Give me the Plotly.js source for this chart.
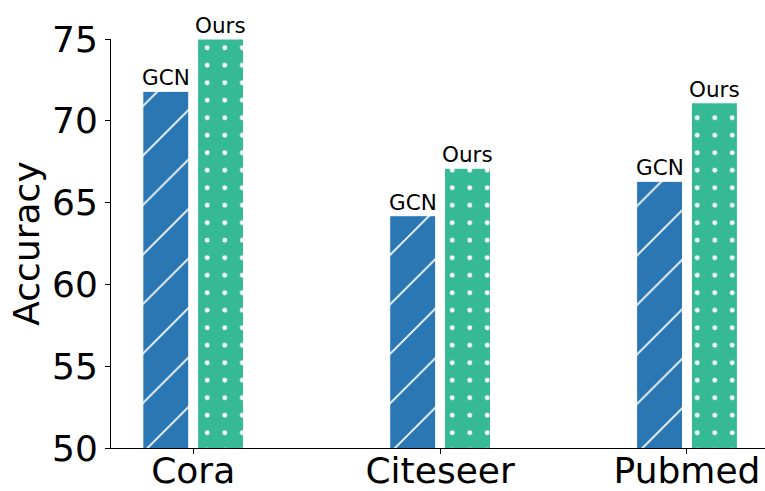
<!DOCTYPE html>
<html>
<head>
<meta charset="utf-8">
<script src="https://cdn.plot.ly/plotly-3.0.1.min.js"></script>
<style>html,body{margin:0;padding:0;background:#fff;}#chart{width:765px;height:491px;}</style>
</head>
<body>
<div id="chart"></div>
<script>
var categories = ["Cora", "Citeseer", "Pubmed"];
var gcnValues = [71.8, 64.2, 66.3];
var oursValues = [75.0, 67.1, 71.1];
var seriesNames = ["GCN", "Ours"];
var yTicks = [50, 55, 60, 65, 70, 75];

var font = "DejaVu Sans, sans-serif";
var blue = "#2a77b4";
var green = "#36b995";

var traces = [
  {
    type: "bar", name: seriesNames[0], x: categories, y: gcnValues,
    marker: {color: blue, line: {color: "#ffffff", width: 1},
      pattern: {shape: "/", fgcolor: "#ffffff", bgcolor: blue, size: 35, solidity: 0.05}},
    cliponaxis: false, hoverinfo: "none"
  },
  {
    type: "bar", name: seriesNames[1], x: categories, y: oursValues,
    marker: {color: green, line: {color: "#ffffff", width: 1},
      pattern: {shape: ".", fgcolor: "#ffffff", bgcolor: green, size: 17.5, solidity: 0.06}},
    cliponaxis: false, hoverinfo: "none"
  }
];

var annotations = [];
var offs = [-0.111, 0.111];
[gcnValues, oursValues].forEach(function (vals, s) {
  vals.forEach(function (v, i) {
    annotations.push({
      x: i + offs[s], y: v, xref: "x", yref: "y", text: seriesNames[s],
      showarrow: false, yanchor: "bottom", xanchor: "center", yshift: -1,
      font: {family: font, size: 21.5, color: "#000"}
    });
  });
});

var layout = {
  width: 765, height: 491,
  margin: {l: 111, r: 0, t: 39, b: 43, pad: 0},
  paper_bgcolor: "#fff", plot_bgcolor: "#fff",
  showlegend: false,
  barmode: "group", bargap: 0.556, bargroupgap: 0.162,
  font: {family: font, color: "#000"},
  xaxis: {
    type: "category", range: [-0.333, 2.316],
    showline: true, linecolor: "#000", linewidth: 1,
    ticks: "outside", ticklen: 5, tickcolor: "#000",
    ticklabelstandoff: -14,
    tickfont: {family: font, size: 36, color: "#000"},
    showgrid: false, zeroline: false, automargin: false
  },
  yaxis: {
    range: [50, 75], tickvals: yTicks, ticktext: yTicks.map(String),
    showline: true, linecolor: "#000", linewidth: 1,
    ticks: "outside", ticklen: 5, tickcolor: "#000",
    tickfont: {family: font, size: 36, color: "#000"},
    title: {text: "Accuracy", font: {family: font, size: 36, color: "#000"}, standoff: 1},
    showgrid: false, zeroline: false, automargin: false
  },
  annotations: annotations
};

Plotly.newPlot("chart", traces, layout, {displayModeBar: false, staticPlot: true});
</script>
</body>
</html>
